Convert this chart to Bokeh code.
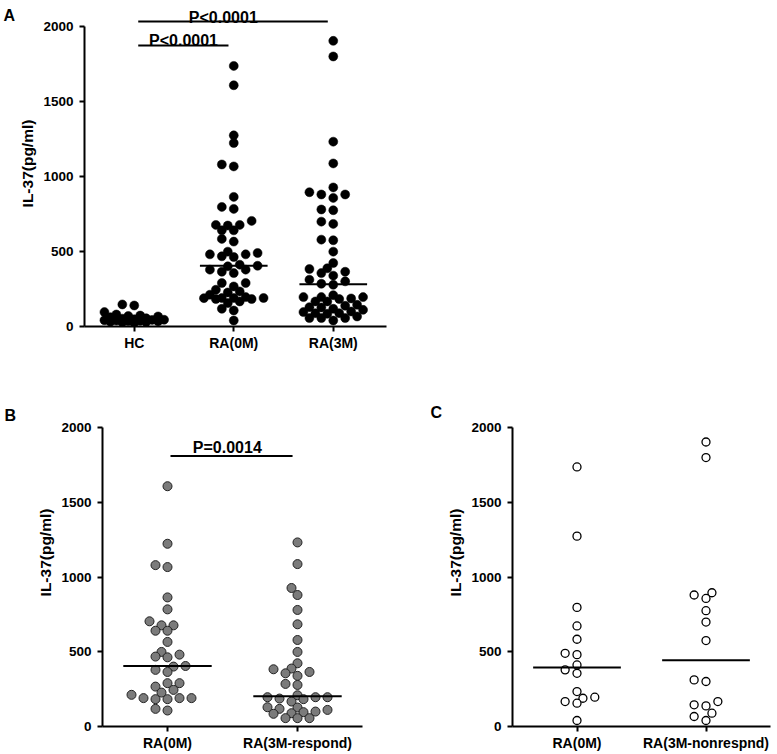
import numpy as np
from bokeh.plotting import figure
from bokeh.models import Label, FixedTicker, Range1d
from bokeh.core.properties import value
from bokeh.layouts import column, row
from bokeh.embed import file_html
from bokeh.resources import INLINE

FONT = "Liberation Sans"

# ---------------- data (pg/ml) ----------------
y_ticks = [0, 500, 1000, 1500, 2000]

a_categories = ["HC", "RA(0M)", "RA(3M)"]
b_categories = ["RA(0M)", "RA(3M-respond)"]
c_categories = ["RA(0M)", "RA(3M-nonrespnd)"]

hc = [147, 140, 96, 80, 73, 70, 67, 62, 55, 52, 48, 45, 44, 42, 40, 38, 36, 34, 32, 30, 28, 25]

b_ra0m = [1608, 1223, 1080, 1067, 864, 784, 704, 677, 677, 641, 641, 566, 499, 481, 468,
          463, 405, 401, 379, 365, 290, 290, 267, 245, 227, 212, 190, 190, 190, 183, 183, 118, 107]
b_ra3m_respond = [1232, 1087, 927, 880, 780, 684, 579, 499, 423, 388, 383, 365, 356, 339, 285,
                  278, 209, 196, 196, 196, 187, 183, 167, 129, 127, 118, 111, 100, 96, 89, 85, 56, 56, 56]

c_ra0m = [1737, 1274, 797, 673, 584, 490, 481, 412, 379, 356, 234, 196, 189, 167, 156, 40]
c_ra3m_nonrespond = [1904, 1800, 895, 880, 857, 775, 699, 575, 312, 301, 167, 145, 138, 89, 67, 40]

# panel A = all RA patients (responders + non-responders)
a_ra0m = b_ra0m + c_ra0m
a_ra3m = b_ra3m_respond + c_ra3m_nonrespond

a_groups = [hc, a_ra0m, a_ra3m]
b_groups = [b_ra0m, b_ra3m_respond]
c_groups = [c_ra0m, c_ra3m_nonrespond]

p_texts_a = ["P<0.0001", "P<0.0001"]
p_text_b = "P=0.0014"


def swarm_offsets(vals, y_px, step_px, dmin_px, cap_px):
    """Simple capped beeswarm: offsets (px) on a half-slot grid."""
    vals = np.asarray(vals, dtype=float)
    order = np.argsort(vals, kind="stable")
    half = step_px / 2.0
    n = int(cap_px // half)
    cands = [0.0]
    for k in range(1, n + 1):
        cands += [-k * half, k * half]
    placed = []
    offs = np.zeros(len(vals))
    for i in order:
        y = vals[i] * y_px
        chosen, best, bestd = None, 0.0, -1.0
        for c in cands:
            md = min([np.hypot(c - px, y - py) for (px, py) in placed], default=1e9)
            if md >= dmin_px:
                chosen = c
                break
            if md > bestd + 1e-9:
                bestd, best = md, c
        if chosen is None:
            chosen = best
        placed.append((chosen, y))
        offs[i] = chosen
    return offs


def make_panel(width, height, left, right, bottom, x_end, y_end, cats):
    p = figure(width=width, height=height,
               x_range=Range1d(0.5, x_end), y_range=Range1d(0, y_end),
               output_backend="svg", toolbar_location=None,
               min_border_left=left, min_border_right=right,
               min_border_top=0, min_border_bottom=bottom)
    p.grid.visible = False
    p.outline_line_color = None
    p.background_fill_color = "white"
    p.border_fill_color = "white"
    for ax in (p.xaxis[0], p.yaxis[0]):
        ax.axis_line_width = 2
        ax.axis_line_color = "black"
        ax.major_tick_line_width = 2
        ax.major_tick_line_color = "black"
        ax.major_tick_out = 5
        ax.major_tick_in = 0
        ax.minor_tick_line_color = None
        ax.major_label_text_font = FONT
        ax.major_label_text_font_style = "bold"
        ax.major_label_text_color = "black"
    p.yaxis.ticker = FixedTicker(ticks=y_ticks)
    p.yaxis.bounds = (y_ticks[0], y_ticks[-1])
    p.yaxis.major_label_text_font_size = "13.5px"
    p.yaxis.major_label_standoff = 6
    p.yaxis.axis_label = "IL-37(pg/ml)"
    p.yaxis.axis_label_text_font = FONT
    p.yaxis.axis_label_text_font_size = "15.5px"
    p.yaxis.axis_label_text_font_style = "bold"
    p.yaxis.axis_label_text_color = "black"
    p.yaxis.axis_label_standoff = 4
    p.xaxis.ticker = FixedTicker(ticks=list(range(1, len(cats) + 1)))
    p.xaxis.major_label_overrides = {i + 1: c for i, c in enumerate(cats)}
    p.xaxis.major_label_text_font_size = "14px"
    p.xaxis.major_label_standoff = 3
    frame_w = width - left - right
    frame_h = height - bottom
    x_px = frame_w / (x_end - 0.5)
    y_px = frame_h / y_end
    return p, x_px, y_px


def draw_groups(p, groups, x_px, y_px, marker_kw, size, cap_px):
    for i, vals in enumerate(groups):
        offs = swarm_offsets(vals, y_px, 12.0, 7.5, cap_px) / x_px
        xs = (i + 1) + offs
        p.scatter(x=list(xs), y=list(vals), size=size, **marker_kw)
        med = float(np.median(vals))
        p.segment(x0=[i + 1 - 0.34], x1=[i + 1 + 0.34], y0=[med], y1=[med],
                  line_color="black", line_width=2)


def p_label(p, text, x, y):
    p.add_layout(Label(x=x, y=y, text=text, text_font=FONT, text_font_style="bold",
                       text_font_size="16px", text_color="black",
                       text_align="center", text_baseline="alphabetic"))


def letter_fig(text, width, height, x_px, baseline_from_top):
    """Narrow strip holding a panel letter (A/B/C)."""
    f = figure(width=width, height=height, x_range=Range1d(0, width), y_range=Range1d(0, height),
               x_axis_type=None, y_axis_type=None, output_backend="svg", toolbar_location=None,
               min_border=0)
    f.grid.visible = False
    f.outline_line_color = None
    f.text(x=[x_px], y=[height - baseline_from_top], text=[text], text_font=value(FONT),
           text_font_style="bold", text_font_size="16px", text_color="black",
           text_align="left", text_baseline="alphabetic")
    return f


ROW1_H = 378
ROW2_H = 375

# ---------------- panel A ----------------
pA, ax_px, ay_px = make_panel(384, ROW1_H, 66, 14, 52, 3.535, 2173, a_categories)
draw_groups(pA, a_groups, ax_px, ay_px,
            dict(marker="circle", fill_color="black", line_color="black", line_width=0.5), 9, 30)
pA.segment(x0=[1.04, 1.04], x1=[1.947, 2.945], y0=[1873, 2033], y1=[1873, 2033],
           line_color="black", line_width=2)
p_label(pA, p_texts_a[0], 1.495, 1907)
p_label(pA, p_texts_a[1], 1.895, 2060)
lA = letter_fig("A", 16, ROW1_H, 3, 17)

# ---------------- panel B ----------------
pB, bx_px, by_px = make_panel(412, ROW2_H, 86, 66, 26, 2.5, 2329, b_categories)
draw_groups(pB, b_groups, bx_px, by_px,
            dict(marker="circle", fill_color="#7b7b7b", line_color="#222222", line_width=1), 9, 36)
pB.segment(x0=[1.023], x1=[1.962], y0=[1810], y1=[1810], line_color="black", line_width=2)
p_label(pB, p_text_b, 1.46, 1868)
lB = letter_fig("B", 16, ROW2_H, 4, 40)

# ---------------- panel C ----------------
pC, cx_px, cy_px = make_panel(332, ROW2_H, 65, 6, 26, 2.5, 2329, c_categories)
draw_groups(pC, c_groups, cx_px, cy_px,
            dict(marker="circle", fill_color="white", line_color="black", line_width=1.3), 8, 36)
lC = letter_fig("C", 16, ROW2_H, 2, 37)

layout = column(row(lA, pA), row(lB, pB, lC, pC))

open("out.html", "w").write(file_html(layout, INLINE))
